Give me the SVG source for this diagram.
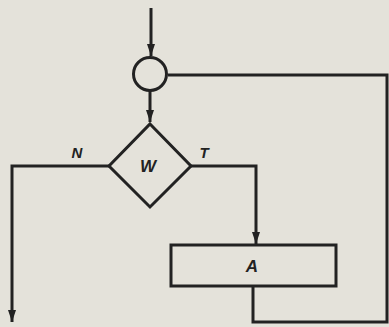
<svg xmlns="http://www.w3.org/2000/svg" width="389" height="327" viewBox="0 0 389 327">
<defs>
<marker id="arr" markerWidth="12" markerHeight="8" refX="12" refY="4" orient="auto" markerUnits="userSpaceOnUse" viewBox="0 0 12 8">
<path d="M0,0 L12,4 L0,8 Z" fill="#222"/>
</marker>
<style>
.ln{fill:none;stroke:#222;stroke-width:3;stroke-linejoin:miter}
.nd{fill:none;stroke:#222;stroke-width:3}
.lb{font-family:"Liberation Sans",Arial,sans-serif;font-weight:bold;font-style:italic;fill:#222}
</style>
</defs>
<rect width="389" height="327" fill="#e4e2da"/>
<g id="connectors">
<path class="ln" d="M151,8 V56" marker-end="url(#arr)"/>
<path class="ln" d="M150,91 V122" marker-end="url(#arr)"/>
<path class="ln" d="M190,166 H256 V244" marker-end="url(#arr)"/>
<path class="ln" d="M110,166 H12 V322" marker-end="url(#arr)"/>
<path class="ln" d="M253,287 V322 H387 V75 H168"/>
</g>
<g id="junction">
<circle class="nd" cx="150" cy="74" r="16.5"/>
</g>
<g id="decision">
<path class="nd" d="M150,124 L191,166 L150,207 L109,166 Z"/>
<text class="lb" x="148" y="172" font-size="17" text-anchor="middle">W</text>
</g>
<g id="labelN"><text class="lb" x="77" y="158" font-size="15" text-anchor="middle">N</text></g>
<g id="labelT"><text class="lb" x="204" y="158" font-size="15" text-anchor="middle">T</text></g>
<g id="action">
<rect class="nd" x="171" y="245" width="165" height="41"/>
<text class="lb" x="252" y="272" font-size="17" text-anchor="middle">A</text>
</g>
</svg>
